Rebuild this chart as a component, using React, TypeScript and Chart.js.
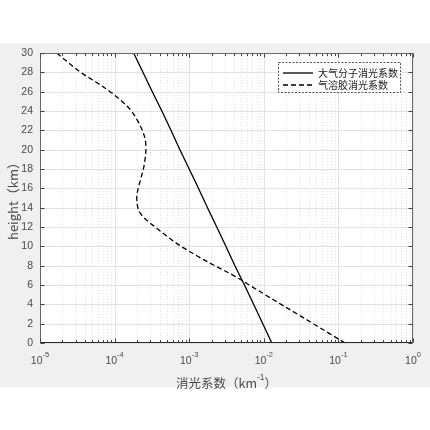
import React, { useEffect, useRef } from "react";
import { Chart, registerables } from "chart.js";

Chart.register(...registerables);

// ---- data ----
const molecularHeights = [0, 2, 4, 6, 8, 10, 12, 14, 16, 18, 20, 22, 24, 26, 28, 30];
const molecularValues = [
  0.0128, 0.0097, 0.0073, 0.0055, 0.0041, 0.0031, 0.00234, 0.00176, 0.00133, 0.001,
  0.00075, 0.00057, 0.00043, 0.00032, 0.00024, 0.00018,
];
const aerosolHeights = [
  0, 1, 2, 3, 4, 5, 6, 7, 8, 9, 10, 11, 12, 12.5, 13, 13.5, 14, 15, 16, 17, 18, 19, 20, 21,
  22, 23, 24, 25, 26, 27, 28, 29, 30,
];
const aerosolValues = [
  0.123, 0.075, 0.046, 0.028, 0.017, 0.0104, 0.0064, 0.0039, 0.0022, 0.00128, 0.00078,
  0.00051, 0.00035, 0.00029, 0.000245, 0.000218, 0.000205, 0.000198, 0.000207, 0.000225,
  0.000243, 0.000256, 0.000263, 0.000258, 0.000235, 0.000203, 0.000168, 0.000125, 0.000087,
  0.000056, 0.000035, 0.000024, 0.0000167,
];
const seriesNames = ["大气分子消光系数", "气溶胶消光系数"];
const xExponents = [-5, -4, -3, -2, -1, 0];
const yTicks = [0, 2, 4, 6, 8, 10, 12, 14, 16, 18, 20, 22, 24, 26, 28, 30];
const yTitle = "height（km）";
const xTitleMain = "消光系数（km";
const xTitleSup = "-1";
const xTitleEnd = "）";

const LATIN = '"Liberation Sans", Arial, sans-serif';
const CJK = '"Noto Sans CJK SC", sans-serif';
const TEXT = "#4a4a4a";

const decorPlugin = {
  id: "decor",
  beforeDraw(chart: any) {
    const { ctx, width, height, chartArea } = chart;
    ctx.save();
    ctx.fillStyle = "#ffffff";
    ctx.fillRect(0, 0, width, height);
    ctx.fillStyle = "#f0f0f0";
    ctx.fillRect(0, 43, width, 344);
    ctx.fillStyle = "#ffffff";
    ctx.fillRect(chartArea.left, chartArea.top, chartArea.right - chartArea.left, chartArea.bottom - chartArea.top);
    ctx.restore();
  },
  beforeDatasetsDraw(chart: any) {
    const { ctx, chartArea } = chart;
    const xs = chart.scales.x;
    const ys = chart.scales.y;
    ctx.save();
    ctx.strokeStyle = "#e3e3e3";
    ctx.lineWidth = 1;
    ctx.setLineDash([1, 2]);
    for (let e = -5; e < 0; e++) {
      for (let m = 2; m <= 9; m++) {
        const px = Math.round(xs.getPixelForValue(m * Math.pow(10, e))) + 0.5;
        ctx.beginPath();
        ctx.moveTo(px, chartArea.top);
        ctx.lineTo(px, chartArea.bottom);
        ctx.stroke();
      }
    }
    ctx.setLineDash([]);
    ctx.strokeStyle = "#e2e2e2";
    xExponents.forEach((e) => {
      const px = Math.round(xs.getPixelForValue(Math.pow(10, e))) + 0.5;
      ctx.beginPath();
      ctx.moveTo(px, chartArea.top);
      ctx.lineTo(px, chartArea.bottom);
      ctx.stroke();
    });
    yTicks.forEach((v) => {
      const py = Math.round(ys.getPixelForValue(v)) + 0.5;
      ctx.beginPath();
      ctx.moveTo(chartArea.left, py);
      ctx.lineTo(chartArea.right, py);
      ctx.stroke();
    });
    ctx.restore();
  },
  afterDatasetsDraw(chart: any) {
    const { ctx, chartArea } = chart;
    const xs = chart.scales.x;
    const ys = chart.scales.y;
    const L = chartArea.left + 0.5;
    const R = chartArea.right - 0.5;
    const T = chartArea.top + 0.5;
    const B = chartArea.bottom - 0.5;
    ctx.save();
    ctx.setLineDash([]);
    ctx.lineWidth = 1;
    ctx.strokeStyle = "#6a6a6a";
    ctx.beginPath();
    ctx.moveTo(L, B);
    ctx.lineTo(L, T);
    ctx.lineTo(R, T);
    ctx.lineTo(R, B);
    ctx.stroke();
    ctx.strokeStyle = "#262626";
    ctx.beginPath();
    ctx.moveTo(L, B);
    ctx.lineTo(R, B);
    ctx.stroke();
    ctx.strokeStyle = "#404040";
    for (let e = -5; e <= 0; e++) {
      for (let m = 1; m <= 9; m++) {
        if (e === 0 && m > 1) break;
        const px = Math.round(xs.getPixelForValue(m * Math.pow(10, e))) + 0.5;
        const len = m === 1 ? 4 : 2.5;
        ctx.beginPath();
        ctx.moveTo(px, B);
        ctx.lineTo(px, B - len);
        ctx.moveTo(px, T);
        ctx.lineTo(px, T + len);
        ctx.stroke();
      }
    }
    yTicks.forEach((v) => {
      const py = Math.round(ys.getPixelForValue(v)) + 0.5;
      ctx.beginPath();
      ctx.moveTo(L, py);
      ctx.lineTo(L + 4, py);
      ctx.moveTo(R, py);
      ctx.lineTo(R - 4, py);
      ctx.stroke();
    });
    ctx.fillStyle = TEXT;
    ctx.font = `10.5px ${LATIN}`;
    ctx.textAlign = "right";
    ctx.textBaseline = "middle";
    yTicks.forEach((v) => {
      ctx.fillText(String(v), chartArea.left - 7, ys.getPixelForValue(v));
    });
    ctx.textAlign = "left";
    ctx.textBaseline = "alphabetic";
    xExponents.forEach((e) => {
      const px = xs.getPixelForValue(Math.pow(10, e));
      ctx.font = `10.5px ${LATIN}`;
      const w1 = ctx.measureText("10").width;
      ctx.font = `7.5px ${LATIN}`;
      const sup = String(e);
      const w2 = ctx.measureText(sup).width;
      const x0 = px - (w1 + w2) / 2;
      ctx.font = `10.5px ${LATIN}`;
      ctx.fillText("10", x0, 364);
      ctx.font = `7.5px ${LATIN}`;
      ctx.fillText(sup, x0 + w1, 357);
    });
    const cx = (chartArea.left + chartArea.right) / 2;
    ctx.font = `12.5px ${CJK}`;
    const a = ctx.measureText(xTitleMain).width;
    const c = ctx.measureText(xTitleEnd).width;
    ctx.font = `8.5px ${LATIN}`;
    const b = ctx.measureText(xTitleSup).width;
    const x0 = cx - (a + b + c) / 2;
    ctx.font = `12.5px ${CJK}`;
    ctx.fillText(xTitleMain, x0, 388);
    ctx.font = `8.5px ${LATIN}`;
    ctx.fillText(xTitleSup, x0 + a, 380);
    ctx.font = `12.5px ${CJK}`;
    ctx.fillText(xTitleEnd, x0 + a + b, 388);
    ctx.save();
    ctx.translate(13, (chartArea.top + chartArea.bottom) / 2);
    ctx.rotate(-Math.PI / 2);
    ctx.textAlign = "center";
    ctx.textBaseline = "middle";
    ctx.font = `13px ${CJK}`;
    ctx.fillText(yTitle, 0, 0);
    ctx.restore();
    const lx = 278.5, ly = 62.5, lw = 122, lh = 30;
    ctx.fillStyle = "#ffffff";
    ctx.fillRect(lx, ly, lw, lh);
    ctx.strokeStyle = "#555555";
    ctx.lineWidth = 1;
    ctx.setLineDash([2, 1.5]);
    ctx.strokeRect(lx, ly, lw, lh);
    const rows = [73, 85];
    const dashes = [[], [5, 3]];
    rows.forEach((ry, i) => {
      ctx.strokeStyle = "#000000";
      ctx.lineWidth = 1.3;
      ctx.setLineDash(dashes[i]);
      ctx.beginPath();
      ctx.moveTo(283, ry);
      ctx.lineTo(313, ry);
      ctx.stroke();
      ctx.setLineDash([]);
      ctx.fillStyle = "#202020";
      ctx.font = `10px ${CJK}`;
      ctx.textAlign = "left";
      ctx.textBaseline = "middle";
      ctx.fillText(seriesNames[i], 318, ry);
    });
    ctx.restore();
  },
};

export default function App() {
  const canvasRef = useRef<HTMLCanvasElement | null>(null);

  useEffect(() => {
    const canvas = canvasRef.current;
    if (!canvas) return;
    const chart = new Chart(canvas, {
      type: "line",
      data: {
        datasets: [
          {
            label: seriesNames[0],
            data: molecularHeights.map((h, i) => ({ x: molecularValues[i], y: h })),
            borderColor: "#000000",
            borderWidth: 1.3,
            pointRadius: 0,
            tension: 0,
            fill: false,
          },
          {
            label: seriesNames[1],
            data: aerosolHeights.map((h, i) => ({ x: aerosolValues[i], y: h })),
            borderColor: "#000000",
            borderWidth: 1.3,
            borderDash: [5, 3],
            pointRadius: 0,
            tension: 0.35,
            fill: false,
          },
        ],
      },
      options: {
        animation: false,
        responsive: false,
        maintainAspectRatio: false,
        devicePixelRatio: 1,
        layout: { padding: { top: 53, right: 17, left: 0, bottom: 0 } },
        plugins: { legend: { display: false }, title: { display: false }, tooltip: { enabled: false } },
        scales: {
          x: {
            type: "logarithmic",
            min: 1e-5,
            max: 1,
            grid: { display: false },
            border: { display: false },
            ticks: { display: false },
            afterFit: (s: any) => {
              s.height = 87;
            },
          },
          y: {
            type: "linear",
            min: 0,
            max: 30,
            grid: { display: false },
            border: { display: false },
            ticks: { display: false, stepSize: 2 },
            afterFit: (s: any) => {
              s.width = 40;
            },
          },
        },
      } as any,
      plugins: [decorPlugin],
    });
    return () => chart.destroy();
  }, []);

  return (
    <div style={{ position: "fixed", left: 0, top: 0, width: 430, height: 430, background: "#fff" }}>
      <canvas ref={canvasRef} width={430} height={430} style={{ width: 430, height: 430, display: "block" }} />
    </div>
  );
}
